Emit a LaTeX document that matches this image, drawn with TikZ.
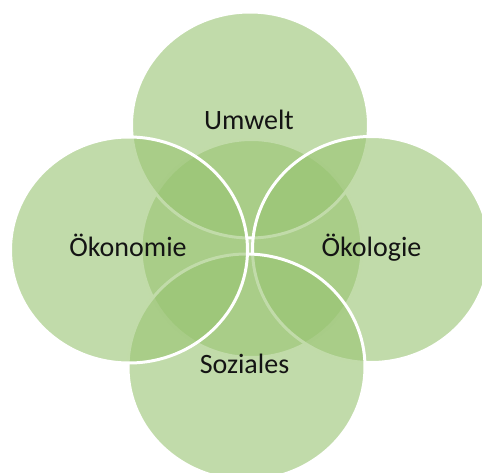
\documentclass[tikz,border=0pt]{standalone}
\usepackage{fontspec}
\setmainfont{Carlito}
\usetikzlibrary{shapes.geometric}
\definecolor{leafgreen}{RGB}{152,195,113}
\definecolor{inkdark}{RGB}{20,20,20}
\tikzset{
  petal/.style={ellipse, draw=white, line width=3pt, fill=leafgreen,
    fill opacity=0.6, draw opacity=1, minimum width=237pt, minimum height=226pt,
    inner sep=0pt, outer sep=0pt},
  hub/.style={petal, minimum width=221pt, minimum height=218pt},
  caption/.style={anchor=base, text=inkdark, font=\fontsize{28}{32}\selectfont,
    inner sep=0pt}
}
\begin{document}
\begin{tikzpicture}[x=1pt,y=-1pt]
  \useasboundingbox (0,0) rectangle (482,473);
  \clip (0,0) rectangle (482,473);
  % central disc first, then the four surrounding discs
  \node[hub]   (hub)    at (251.5,248.5) {};
  \node[petal] (umwelt) at (250,125) {};
  \node[petal] (oekol)  at (371,249.5) {};
  \node[petal] (sozial) at (246.5,367) {};
  \node[petal] (oekon)  at (129,250) {};
  % captions
  \node[caption] (tU) at (249,130)   {Umwelt};
  \node[caption] (tR) at (371.5,257) {Ökologie};
  \node[caption] (tS) at (244.5,373) {Soziales};
  \node[caption] (tL) at (128,257)   {Ökonomie};
\end{tikzpicture}
\end{document}
